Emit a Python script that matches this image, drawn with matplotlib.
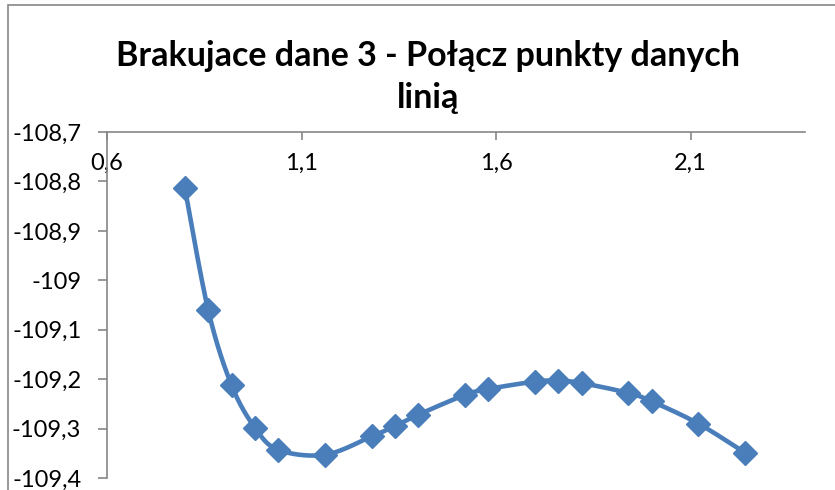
import numpy as np
import matplotlib
matplotlib.use("Agg")
import matplotlib.pyplot as plt
from matplotlib.ticker import FuncFormatter, FixedLocator
from matplotlib.patches import Rectangle

plt.rcParams['font.family'] = ['Lato', 'DejaVu Sans']

title = "Brakujace dane 3 - Połącz punkty danych\nlinią"
x_vals = [0.80, 0.86, 0.92, 0.98, 1.04, 1.16, 1.28, 1.34, 1.40, 1.52, 1.58,
          1.70, 1.76, 1.82, 1.94, 2.00, 2.12, 2.24]
y_vals = [-108.813, -109.060, -109.212, -109.298, -109.343, -109.353, -109.316,
          -109.295, -109.272, -109.232, -109.220, -109.205, -109.203, -109.208,
          -109.228, -109.245, -109.290, -109.349]
x_ticks = [0.6, 1.1, 1.6, 2.1]
y_ticks = [-108.7, -108.8, -108.9, -109.0, -109.1, -109.2, -109.3, -109.4]

color = '#4A7EBB'

W, H = 835, 490
fig = plt.figure(figsize=(W / 100, H / 100), dpi=100)
fig.patches.append(Rectangle((8 / W, -0.1), 1.2, 1.1 - 5 / H, transform=fig.transFigure,
                             fill=False, edgecolor='#868686', linewidth=1.2))

ax = fig.add_axes([107 / W, 1 - 478 / H, (805 - 107) / W, (478 - 132) / H])

# Excel-style smoothed line (Catmull-Rom -> cubic Bezier)
P = np.column_stack([x_vals, y_vals])
n = len(P)
curve = [P[0]]
t = np.linspace(0, 1, 30)[1:]
for i in range(n - 1):
    p0 = P[max(i - 1, 0)]
    p1 = P[i]
    p2 = P[i + 1]
    p3 = P[min(i + 2, n - 1)]
    c1 = p1 + (p2 - p0) / 6
    c2 = p2 - (p3 - p1) / 6
    seg = ((1 - t) ** 3)[:, None] * p1 + (3 * (1 - t) ** 2 * t)[:, None] * c1 + \
          (3 * (1 - t) * t ** 2)[:, None] * c2 + (t ** 3)[:, None] * p2
    curve.extend(seg)
curve = np.array(curve)
ax.plot(curve[:, 0], curve[:, 1], color=color, linewidth=3.3, solid_capstyle='round', zorder=2)
ax.plot(x_vals, y_vals, linestyle='none', marker='D', markersize=12, color=color,
        markeredgecolor=color, zorder=3)

ax.set_xlim(0.6, 2.394)
ax.set_ylim(-109.4, -108.7)

def comma(v, pos):
    s = ('%.1f' % v)
    if s.endswith('.0'):
        s = s[:-2]
    return s.replace('.', ',')

ax.xaxis.set_major_locator(FixedLocator(x_ticks))
ax.yaxis.set_major_locator(FixedLocator(y_ticks))
ax.xaxis.set_major_formatter(FuncFormatter(comma))
ax.yaxis.set_major_formatter(FuncFormatter(comma))

for s in ['right', 'bottom']:
    ax.spines[s].set_visible(False)
for s in ['left', 'top']:
    ax.spines[s].set_color('#868686')
    ax.spines[s].set_linewidth(1.2)

ax.tick_params(axis='x', top=True, bottom=False, labeltop=True, labelbottom=False,
               direction='in', length=6, width=1.2, color='#868686', pad=-30,
               labelsize=17, labelcolor='black')
ax.tick_params(axis='y', left=True, direction='out', length=6.5, width=1.2,
               color='#868686', pad=12, labelsize=17, labelcolor='black')

fig.text(428 / W, 1 - 77 / H, title, ha='center', va='center', fontsize=24.5,
         fontweight='bold', linespacing=1.35)

fig.savefig('out.png', dpi=100)
